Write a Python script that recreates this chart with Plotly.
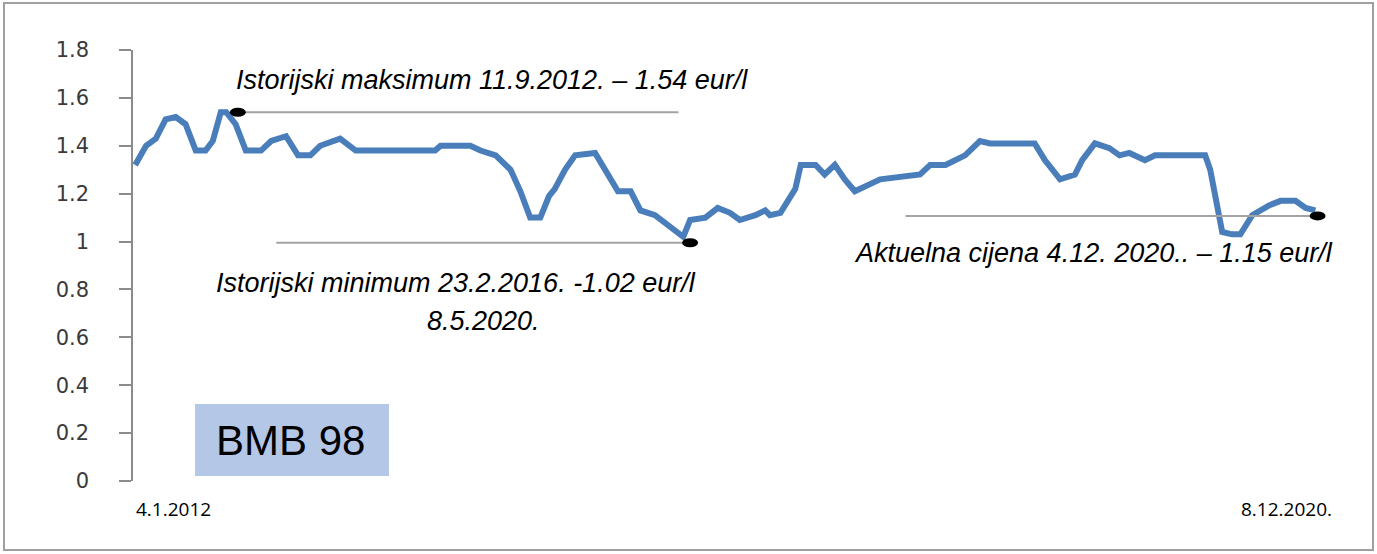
import plotly.graph_objects as go

# ---- data ----
dates = [
    "2012-01-04", "2012-02-03", "2012-03-01", "2012-03-28", "2012-04-25", "2012-05-22",
    "2012-06-19", "2012-07-16", "2012-08-05", "2012-08-27", "2012-09-11", "2012-10-07",
    "2012-11-04", "2012-12-16", "2013-01-13", "2013-02-23", "2013-03-28", "2013-05-01",
    "2013-05-28", "2013-07-22", "2013-09-03", "2014-04-10", "2014-04-25", "2014-07-16",
    "2014-08-13", "2014-09-24", "2014-11-04", "2014-12-01", "2014-12-28", "2015-01-25",
    "2015-02-18", "2015-03-06", "2015-04-03", "2015-05-01", "2015-06-25", "2015-07-22",
    "2015-08-27", "2015-10-01", "2015-10-28", "2015-12-07", "2016-01-13", "2016-02-23",
    "2016-03-13", "2016-04-24", "2016-05-28", "2016-07-01", "2016-07-28", "2016-09-09",
    "2016-10-06", "2016-10-19", "2016-11-17", "2016-12-28", "2017-01-12", "2017-02-22",
    "2017-03-19", "2017-04-16", "2017-05-13", "2017-06-10", "2017-07-22", "2017-08-19",
    "2017-12-07", "2018-01-04", "2018-02-15", "2018-03-13", "2018-04-10", "2018-05-21",
    "2018-06-18", "2018-10-19", "2018-11-16", "2018-12-28", "2019-02-07", "2019-02-27",
    "2019-04-03", "2019-05-13", "2019-06-10", "2019-07-07", "2019-08-19", "2019-09-16",
    "2020-02-01", "2020-02-15", "2020-03-07", "2020-03-19", "2020-04-15", "2020-05-08",
    "2020-06-10", "2020-07-25", "2020-08-27", "2020-10-07", "2020-11-04", "2020-12-01",
]
prices = [
    1.32, 1.40, 1.43, 1.51, 1.52, 1.49,
    1.38, 1.38, 1.42, 1.54, 1.54, 1.49,
    1.38, 1.38, 1.42, 1.44, 1.36, 1.36,
    1.40, 1.43, 1.38, 1.38, 1.40, 1.40,
    1.38, 1.36, 1.30, 1.21, 1.10, 1.10,
    1.19, 1.22, 1.30, 1.36, 1.37, 1.30,
    1.21, 1.21, 1.13, 1.11, 1.07, 1.02,
    1.09, 1.10, 1.14, 1.12, 1.09, 1.11,
    1.13, 1.11, 1.12, 1.22, 1.32, 1.32,
    1.28, 1.32, 1.26, 1.21, 1.24, 1.26,
    1.28, 1.32, 1.32, 1.34, 1.36, 1.42,
    1.41, 1.41, 1.34, 1.26, 1.28, 1.34,
    1.41, 1.39, 1.36, 1.37, 1.34, 1.36,
    1.36, 1.30, 1.13, 1.04, 1.03, 1.03,
    1.11, 1.15, 1.17, 1.17, 1.14, 1.13,
]
y_ticks = [0, 0.2, 0.4, 0.6, 0.8, 1, 1.2, 1.4, 1.6, 1.8]
y_labels = ["0", "0.2", "0.4", "0.6", "0.8", "1", "1.2", "1.4", "1.6", "1.8"]
x_labels = ["4.1.2012", "8.12.2020."]

# marker lines: (start date, end date, level)
max_line = ("2012-10-13", "2016-02-10", 1.54)
min_line = ("2013-01-27", "2016-03-13", 0.995)
cur_line = ("2017-10-28", "2020-12-07", 1.107)

texts = {
    "max": "Istorijski maksimum 11.9.2012. – 1.54 eur/l",
    "min1": "Istorijski minimum 23.2.2016. -1.02 eur/l",
    "min2": "8.5.2020.",
    "cur": "Aktuelna cijena 4.12. 2020.. – 1.15 eur/l",
    "box": "BMB 98",
}

fig = go.Figure()

fig.add_trace(go.Scatter(
    x=dates, y=prices, mode="lines",
    line=dict(color="#4A7EBB", width=6),
    hoverinfo="skip", showlegend=False,
))

LINE_C = "#A3A3A3"
for (x0, x1, lvl) in (max_line, min_line, cur_line):
    fig.add_shape(type="line", xref="x", yref="y", x0=x0, x1=x1, y0=lvl, y1=lvl,
                  line=dict(color=LINE_C, width=2))

# black elliptical dots at line ends
for (xa, ya) in ((max_line[0], max_line[2]), (min_line[1], min_line[2]), (cur_line[1], cur_line[2])):
    fig.add_shape(type="circle", xref="x", yref="y", xsizemode="pixel", ysizemode="pixel",
                  xanchor=xa, yanchor=ya, x0=-8, x1=8, y0=-4.5, y1=4.5,
                  fillcolor="black", line=dict(width=0))

PX_L, PX_R, PX_T, PX_B = 133, 1335, 50, 481
W, H = 1377, 554


def px(xp):
    return (xp - PX_L) / (PX_R - PX_L)


def py(yp):
    return (PX_B - yp) / (PX_B - PX_T)


it_font = dict(family="Liberation Sans, Arial", size=27, color="black", style="italic")

fig.add_annotation(x=px(492), y=py(80), xref="paper", yref="paper", text=texts["max"],
                   showarrow=False, font=it_font, xanchor="center", yanchor="middle")
fig.add_annotation(x=px(456), y=py(283), xref="paper", yref="paper", text=texts["min1"],
                   showarrow=False, font=it_font, xanchor="center", yanchor="middle")
fig.add_annotation(x=px(483), y=py(321), xref="paper", yref="paper", text=texts["min2"],
                   showarrow=False, font=it_font, xanchor="center", yanchor="middle")
fig.add_annotation(x=px(1093), y=py(253), xref="paper", yref="paper", text=texts["cur"],
                   showarrow=False, font=it_font, xanchor="center", yanchor="middle")

# BMB 98 box
fig.add_shape(type="rect", xref="paper", yref="paper",
              x0=px(195), x1=px(389), y0=py(476), y1=py(404),
              fillcolor="#B4C7E7", line=dict(width=0), layer="below")
fig.add_annotation(x=px(290), y=py(440), xref="paper", yref="paper", text=texts["box"],
                   showarrow=False, font=dict(family="Liberation Sans, Arial", size=42, color="black"),
                   xanchor="center", yanchor="middle")

# x end labels
lab_font = dict(family="Open Sans, Liberation Sans", size=19, color="black")
fig.add_annotation(x=px(213), y=py(509), xref="paper", yref="paper", text=x_labels[0],
                   showarrow=False, font=lab_font, xanchor="right", yanchor="middle")
fig.add_annotation(x=px(1334), y=py(509), xref="paper", yref="paper", text=x_labels[1],
                   showarrow=False, font=lab_font, xanchor="right", yanchor="middle")

# outer frame
fig.add_shape(type="rect", xref="paper", yref="paper",
              x0=px(4), x1=px(1373), y0=py(550), y1=py(3),
              line=dict(color="#A0A0A0", width=2), fillcolor="rgba(0,0,0,0)")

fig.update_layout(
    width=W, height=H,
    margin=dict(l=PX_L, r=W - PX_R, t=PX_T, b=H - PX_B),
    paper_bgcolor="white", plot_bgcolor="white",
    xaxis=dict(range=["2011-12-29", "2021-01-24"], showgrid=False, zeroline=False,
               showticklabels=False, showline=False, ticks=""),
    yaxis=dict(range=[0, 1.8], tickvals=y_ticks, ticktext=y_labels,
               showgrid=False, zeroline=False, showline=True, linecolor="#8C8C8C", linewidth=1.5,
               ticks="outside", ticklen=12, tickcolor="#8C8C8C", tickwidth=1.5,
               ticklabelstandoff=26,
               tickfont=dict(family="DejaVu Sans", size=21, color="#3A3A3A")),
)

fig.write_html("out.html", config={"displayModeBar": False},
               post_script="document.body.style.margin='0';")
